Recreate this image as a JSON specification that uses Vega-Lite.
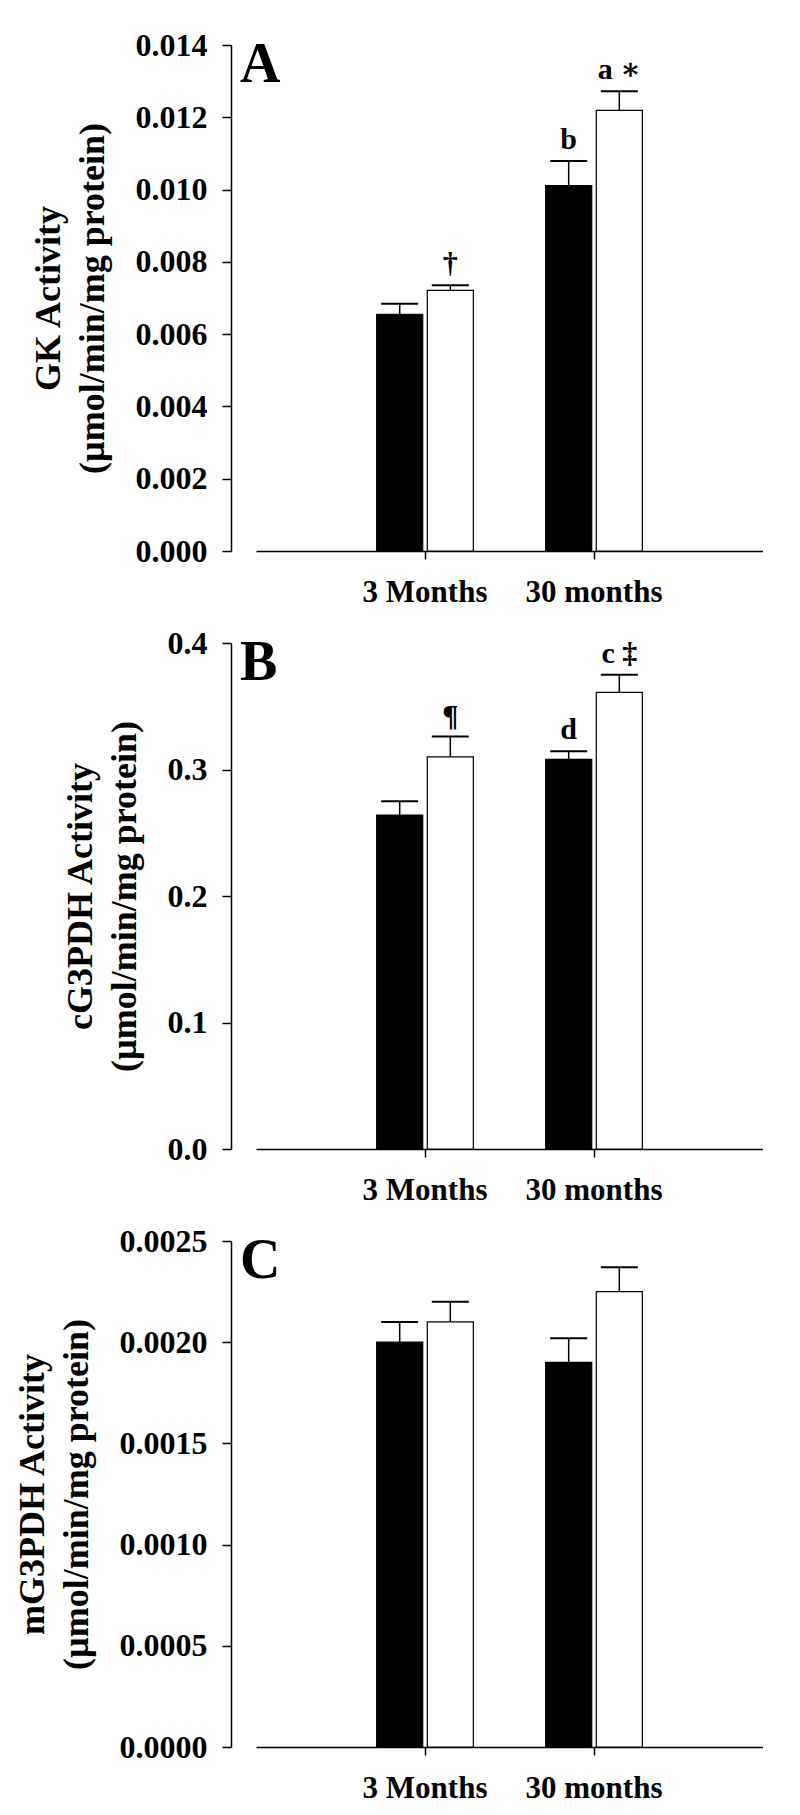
{
  "$schema": "https://vega.github.io/schema/vega-lite/v6.json",
  "background": "#ffffff",
  "padding": {"left": 14, "top": 29, "right": 0, "bottom": 0},
  "config": {
    "view": {"stroke": null},
    "font": "Liberation Serif",
    "axis": {
      "labelFont": "Liberation Serif",
      "labelFontWeight": "bold",
      "labelFontSize": 31,
      "labelColor": "#000000",
      "titleFont": "Liberation Serif",
      "titleFontWeight": "bold",
      "titleColor": "#000000",
      "domainColor": "#000000",
      "domainWidth": 1.5,
      "tickColor": "#000000",
      "tickWidth": 1.5,
      "grid": false
    },
    "axisY": {"labelFontSize": 32, "titleFontSize": 36, "titleLineHeight": 44},
    "title": {"font": "Liberation Serif", "fontWeight": "bold", "fontSize": 56, "color": "#000000", "anchor": "start", "frame": "group", "baseline": "alphabetic", "dx": -16, "dy": 6, "offset": -59}
  },
  "datasets": {
    "bars": [
      {"panel": "A", "age": "3 Months", "group": "Group 1", "mean": 0.00655, "upper": 0.00684, "label": ""},
      {"panel": "A", "age": "3 Months", "group": "Group 2", "mean": 0.00721, "upper": 0.00735, "label": "†"},
      {"panel": "A", "age": "30 months", "group": "Group 1", "mean": 0.01011, "upper": 0.01079, "label": "b"},
      {"panel": "A", "age": "30 months", "group": "Group 2", "mean": 0.01219, "upper": 0.01272, "label": "a ∗"},
      {"panel": "B", "age": "3 Months", "group": "Group 1", "mean": 0.264, "upper": 0.275, "label": ""},
      {"panel": "B", "age": "3 Months", "group": "Group 2", "mean": 0.310, "upper": 0.326, "label": "¶"},
      {"panel": "B", "age": "30 months", "group": "Group 1", "mean": 0.308, "upper": 0.3145, "label": "d"},
      {"panel": "B", "age": "30 months", "group": "Group 2", "mean": 0.361, "upper": 0.375, "label": "c ‡"},
      {"panel": "C", "age": "3 Months", "group": "Group 1", "mean": 0.0020, "upper": 0.0021, "label": ""},
      {"panel": "C", "age": "3 Months", "group": "Group 2", "mean": 0.0021, "upper": 0.0022, "label": ""},
      {"panel": "C", "age": "30 months", "group": "Group 1", "mean": 0.0019, "upper": 0.00202, "label": ""},
      {"panel": "C", "age": "30 months", "group": "Group 2", "mean": 0.00225, "upper": 0.00237, "label": ""}
    ]
  },
  "vconcat": [
    {
      "width": 507, "height": 506,
      "title": {"text": "A"},
      "data": {"name": "bars"},
      "transform": [{"filter": "datum.panel === 'A'"}],
      "encoding": {
        "x": {"field": "age", "type": "nominal", "sort": ["3 Months", "30 months"],
              "scale": {"paddingInner": 0.428, "paddingOuter": 0.714},
              "axis": {"title": null, "labelAngle": 0, "tickSize": 8, "labelPadding": 18}},
        "xOffset": {"field": "group", "type": "nominal", "scale": {"paddingInner": 0.09, "paddingOuter": 0}}
      },
      "layer": [
        {"mark": {"type": "bar", "stroke": "#000000", "strokeWidth": 1.2},
         "encoding": {
           "y": {"field": "mean", "type": "quantitative", "scale": {"domain": [0, 0.014], "nice": false, "zero": true},
                 "axis": {"title": ["GK Activity", "(µmol/min/mg protein)"], "values": [0, 0.002, 0.004, 0.006, 0.008, 0.01, 0.012, 0.014], "format": ".3f",
                          "offset": 25, "tickSize": 9, "labelPadding": 15, "titlePadding": 24}},
           "fill": {"field": "group", "type": "nominal", "scale": {"range": ["#000000", "#ffffff"]}, "legend": null}}},
        {"mark": {"type": "rule", "color": "#000000", "strokeWidth": 1.5},
         "encoding": {"y": {"field": "mean", "type": "quantitative"}, "y2": {"field": "upper"}}},
        {"mark": {"type": "tick", "color": "#000000", "size": 37, "thickness": 2, "opacity": 1},
         "encoding": {"y": {"field": "upper", "type": "quantitative"}}},
        {"mark": {"type": "text", "font": "Liberation Serif, DejaVu Serif", "fontWeight": "bold", "fontSize": 30, "baseline": "alphabetic", "dy": -12, "color": "#000000"},
         "encoding": {"y": {"field": "upper", "type": "quantitative"}, "text": {"field": "label"}}}
      ]
    },
    {
      "width": 507, "height": 506,
      "title": {"text": "B"},
      "data": {"name": "bars"},
      "transform": [{"filter": "datum.panel === 'B'"}],
      "encoding": {
        "x": {"field": "age", "type": "nominal", "sort": ["3 Months", "30 months"],
              "scale": {"paddingInner": 0.428, "paddingOuter": 0.714},
              "axis": {"title": null, "labelAngle": 0, "tickSize": 8, "labelPadding": 18}},
        "xOffset": {"field": "group", "type": "nominal", "scale": {"paddingInner": 0.09, "paddingOuter": 0}}
      },
      "layer": [
        {"mark": {"type": "bar", "stroke": "#000000", "strokeWidth": 1.2},
         "encoding": {
           "y": {"field": "mean", "type": "quantitative", "scale": {"domain": [0, 0.4], "nice": false, "zero": true},
                 "axis": {"title": ["cG3PDH Activity", "(µmol/min/mg protein)"], "values": [0, 0.1, 0.2, 0.3, 0.4], "format": ".1f",
                          "offset": 25, "tickSize": 9, "labelPadding": 15, "titlePadding": 24}},
           "fill": {"field": "group", "type": "nominal", "scale": {"range": ["#000000", "#ffffff"]}, "legend": null}}},
        {"mark": {"type": "rule", "color": "#000000", "strokeWidth": 1.5},
         "encoding": {"y": {"field": "mean", "type": "quantitative"}, "y2": {"field": "upper"}}},
        {"mark": {"type": "tick", "color": "#000000", "size": 37, "thickness": 2, "opacity": 1},
         "encoding": {"y": {"field": "upper", "type": "quantitative"}}},
        {"mark": {"type": "text", "font": "Liberation Serif, DejaVu Serif", "fontWeight": "bold", "fontSize": 30, "baseline": "alphabetic", "dy": -12, "color": "#000000"},
         "encoding": {"y": {"field": "upper", "type": "quantitative"}, "text": {"field": "label"}}}
      ]
    },
    {
      "width": 507, "height": 506,
      "title": {"text": "C"},
      "data": {"name": "bars"},
      "transform": [{"filter": "datum.panel === 'C'"}],
      "encoding": {
        "x": {"field": "age", "type": "nominal", "sort": ["3 Months", "30 months"],
              "scale": {"paddingInner": 0.428, "paddingOuter": 0.714},
              "axis": {"title": null, "labelAngle": 0, "tickSize": 8, "labelPadding": 18}},
        "xOffset": {"field": "group", "type": "nominal", "scale": {"paddingInner": 0.09, "paddingOuter": 0}}
      },
      "layer": [
        {"mark": {"type": "bar", "stroke": "#000000", "strokeWidth": 1.2},
         "encoding": {
           "y": {"field": "mean", "type": "quantitative", "scale": {"domain": [0, 0.0025], "nice": false, "zero": true},
                 "axis": {"title": ["mG3PDH Activity", "(µmol/min/mg protein)"], "values": [0, 0.0005, 0.001, 0.0015, 0.002, 0.0025], "format": ".4f",
                          "offset": 25, "tickSize": 9, "labelPadding": 15, "titlePadding": 24}},
           "fill": {"field": "group", "type": "nominal", "scale": {"range": ["#000000", "#ffffff"]}, "legend": null}}},
        {"mark": {"type": "rule", "color": "#000000", "strokeWidth": 1.5},
         "encoding": {"y": {"field": "mean", "type": "quantitative"}, "y2": {"field": "upper"}}},
        {"mark": {"type": "tick", "color": "#000000", "size": 37, "thickness": 2, "opacity": 1},
         "encoding": {"y": {"field": "upper", "type": "quantitative"}}}
      ]
    }
  ],
  "spacing": 92,
  "bounds": "flush"
}
